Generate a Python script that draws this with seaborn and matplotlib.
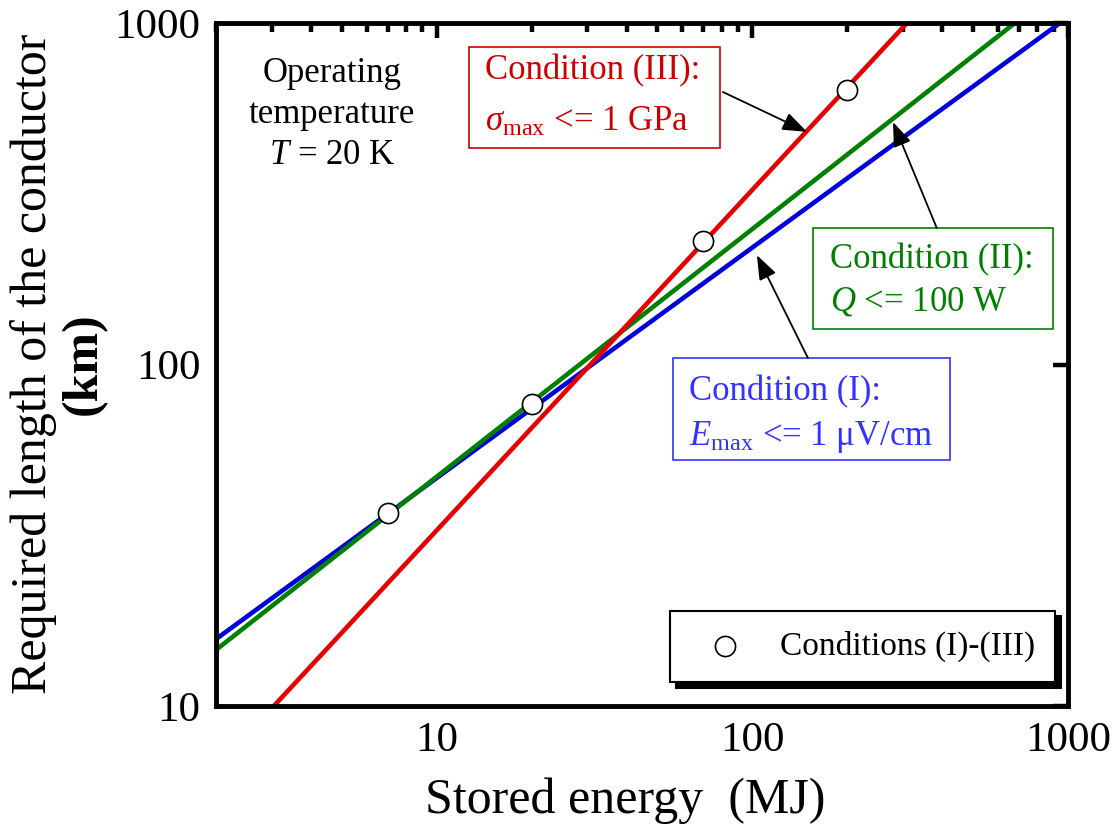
import matplotlib
matplotlib.use("Agg")
import matplotlib.pyplot as plt
import seaborn as sns
import pandas as pd
from matplotlib.patches import Rectangle
from matplotlib.ticker import FixedLocator, FixedFormatter, LogLocator, NullLocator, NullFormatter

sns.set_theme(style="white")
plt.rcParams["font.family"] = ["Liberation Serif", "DejaVu Serif"]
plt.rcParams["mathtext.fontset"] = "custom"
plt.rcParams["mathtext.rm"] = "Liberation Serif"
plt.rcParams["mathtext.it"] = "Liberation Serif:italic"
plt.rcParams["mathtext.bf"] = "Liberation Serif:bold"

# Required conductor length (km) against stored energy (MJ) for each condition
energy_I = [2, 943]
length_I = [15.7, 1000]
energy_II = [2, 679]
length_II = [14.6, 1000]
energy_III = [3.05, 309]
length_III = [10, 1000]

# Design points satisfying all three conditions
energy_pts = [7, 20, 70, 200]
length_pts = [36.7, 76.5, 230, 638]

x_ticks = [10, 100, 1000]
x_ticklabels = ["10", "100", "1000"]
y_ticks = [10, 100, 1000]
y_ticklabels = ["10", "100", "1000"]

RED, GREEN, BLUE = "#e60000", "#008000", "#0000dd"
RED_T, GREEN_T, BLUE_T = "#cc0000", "#008000", "#3333ff"

fig = plt.figure(figsize=(11.19, 8.30), dpi=100)
ax = fig.add_axes([216 / 1119, 1 - 706 / 830, 852 / 1119, 683 / 830])
ax.set_xscale("log")
ax.set_yscale("log")

lines = pd.DataFrame({
    "energy": energy_I + energy_II + energy_III,
    "length": length_I + length_II + length_III,
    "cond": ["I"] * 2 + ["II"] * 2 + ["III"] * 2,
})
sns.lineplot(data=lines, x="energy", y="length", hue="cond",
             palette={"I": BLUE, "II": GREEN, "III": RED},
             linewidth=3.3, legend=False, ax=ax, estimator=None, sort=False)

sns.scatterplot(x=energy_pts, y=length_pts, s=210, color="white",
                edgecolor="black", linewidth=1.2, zorder=5,
                label="Conditions (I)-(III)", ax=ax)

ax.set_xlim(2, 1000)
ax.set_ylim(10, 1000)
ax.xaxis.set_major_locator(FixedLocator(x_ticks))
ax.xaxis.set_major_formatter(FixedFormatter(x_ticklabels))
ax.xaxis.set_minor_locator(LogLocator(base=10, subs=range(2, 10)))
ax.xaxis.set_minor_formatter(NullFormatter())
ax.yaxis.set_major_locator(FixedLocator(y_ticks))
ax.yaxis.set_major_formatter(FixedFormatter(y_ticklabels))
ax.yaxis.set_minor_locator(NullLocator())

for s in ax.spines.values():
    s.set_linewidth(3.5)
    s.set_color("black")
ax.tick_params(which="both", direction="in", top=True, right=True,
               color="black", labelcolor="black", labelsize=31)
ax.tick_params(which="major", length=11, width=3.2)
ax.tick_params(which="minor", length=6.5, width=3.2)
ax.tick_params(axis="x", which="major", pad=11)
ax.tick_params(axis="y", which="major", pad=11)

ax.set_ylabel("")
ax.set_xlabel("Stored energy  (MJ)", fontsize=36, color="black")
ax.xaxis.set_label_coords(0.48, -0.105)
fig.text(34 / 1119, 1 - 364 / 830, "Required length of the conductor",
         rotation=90, ha="center", va="center", fontsize=36, color="black")
fig.text(84 / 1119, 1 - 364 / 830, "(km)", rotation=90, ha="center",
         va="center", fontsize=36, fontweight="bold", color="black")

# Operating condition note
ax.text(0.136, 0.866, "Operating\ntemperature\n$T$ = 20 K", transform=ax.transAxes,
        ha="center", va="center", fontsize=25, linespacing=1.32, color="black")

# Labelled boxes for each condition
boxes = [
    (0.297, 0.817, 0.5915, 0.965, RED_T, 0.316, 0.930, 0.855,
     "Condition (III):", r"$\sigma_{\mathrm{max}}$ <= 1 GPa"),
    (0.7007, 0.552, 0.9824, 0.700, GREEN_T, 0.7207, 0.653, 0.592,
     "Condition (II):", r"$Q$ <= 100 W"),
    (0.5364, 0.360, 0.8615, 0.5095, BLUE_T, 0.555, 0.460, 0.394,
     "Condition (I):", r"$E_{\mathrm{max}}$ <= 1 μV/cm"),
]
for x0, y0, x1, y1, col, tx, ty1, ty2, t1, t2 in boxes:
    ax.add_patch(Rectangle((x0, y0), x1 - x0, y1 - y0, transform=ax.transAxes,
                           facecolor="white", edgecolor=col, linewidth=1.2, zorder=6))
    ax.text(tx, ty1, t1, transform=ax.transAxes, ha="left", va="center",
            fontsize=25, color=col, zorder=7)
    ax.text(tx, ty2, t2, transform=ax.transAxes, ha="left", va="center",
            fontsize=25, color=col, zorder=7)

arrow_kw = dict(arrowstyle="-|>,head_length=0.75,head_width=0.28", color="black",
                lw=1.3, shrinkA=0, shrinkB=0, mutation_scale=20)
ax.annotate("", xy=(149, 480), xytext=(80.7, 628), arrowprops=arrow_kw, zorder=8)
ax.annotate("", xy=(279, 513), xytext=(384, 251), arrowprops=arrow_kw, zorder=8)
ax.annotate("", xy=(103.4, 209), xytext=(150, 104.5), arrowprops=arrow_kw, zorder=8)

leg = ax.legend(loc="lower right", bbox_to_anchor=(0.985, 0.035), borderaxespad=0,
                fontsize=24, frameon=True, fancybox=False, framealpha=1,
                edgecolor="black", handletextpad=0.6, borderpad=0.6,
                handlelength=2.1, markerscale=1.0,
                shadow={"ox": 4, "oy": -4, "facecolor": "black",
                        "edgecolor": "black", "alpha": 1})
leg.get_frame().set_linewidth(1.5)
for t in leg.get_texts():
    t.set_color("black")

fig.savefig("out.png", dpi=100)
